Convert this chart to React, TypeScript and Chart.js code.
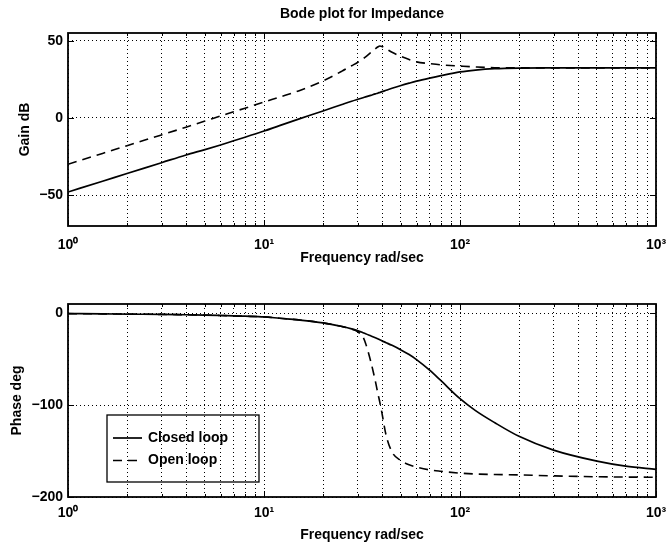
import React, { useEffect, useRef } from 'react';
import { Chart, registerables } from 'chart.js';

Chart.register(...registerables);

// ---------- data ----------
const frequencies = [
  1, 1.5, 2, 3, 4, 5, 6, 7, 8, 10, 12, 15, 20, 25, 28, 30, 32, 33, 35, 37, 38, 39, 40, 42, 45,
  50, 55, 60, 70, 80, 100, 120, 150, 200, 300, 500, 700, 1000,
];
const closedLoopGain = [
  -48, -41, -36, -29, -24, -20.5, -17.5, -14.8, -12.5, -8.5, -5, -0.8, 4.5, 8.7, 10.8, 12, 13.1,
  13.6, 14.6, 15.6, 16, 16.5, 17, 17.9, 19.2, 21, 22.5, 23.8, 25.8, 27.4, 29.8, 31, 31.9, 32.3,
  32.4, 32.4, 32.4, 32.4,
];
const openLoopGain = [
  -30, -23, -18, -11, -6, -2, 1.2, 4, 6.3, 10.3, 13.5, 17.5, 24, 30.3, 33.8, 35.9, 38.3, 39.6,
  42.3, 44.8, 45.9, 46.6, 46.3, 44.8, 42.5, 39.8, 37.8, 36.3, 35.2, 34.4, 33.6, 33, 32.5, 32.4,
  32.4, 32.4, 32.4, 32.4,
];
const closedLoopPhase = [
  -0.5, -0.7, -1, -1.3, -1.7, -2, -2.5, -3, -3.3, -4, -5.5, -7.3, -10.5, -14.5, -17, -19, -21.2,
  -22.3, -24.6, -26.8, -27.9, -29, -30.1, -32.1, -35, -40, -45, -50.5, -62, -73.5, -93, -106,
  -119, -134, -149, -161, -166.5, -170,
];
const openLoopPhase = [
  -0.5, -0.7, -1, -1.3, -1.7, -2, -2.5, -3, -3.3, -4, -5.5, -7.3, -10.5, -14.5, -17.3, -20, -26,
  -33, -52, -74, -86, -97, -109, -133, -151, -160.5, -165, -167.5, -170.5, -172, -174, -175,
  -175.5, -176, -177, -178, -178.3, -178.5,
];
const seriesNames = ['Closed loop', 'Open loop'];
const gainTicks = [-50, 0, 50];
const phaseTicks = [-200, -100, 0];
const decadeLabels = ['10⁰', '10¹', '10²', '10³'];
const gridMultipliers = [1, 2, 3, 4, 5, 6, 7, 8, 9];
const decades = [1, 10, 100];

const FONT = '"Liberation Sans", Arial, Helvetica, sans-serif';
const font = (size: number) => ({ family: FONT, size, weight: 'bold' as const, lineHeight: 1.2 });

const gridFrequencies: number[] = [];
decades.forEach((d) => gridMultipliers.forEach((m) => gridFrequencies.push(m * d)));
gridFrequencies.push(1000);

const isDecade = (v: number) => {
  const e = Math.log10(v);
  return Math.abs(e - Math.round(e)) < 1e-9;
};

// ---------- plugins ----------
const framePlugin = {
  id: 'matlabFrame',
  afterDraw(chart: any) {
    const { ctx, chartArea: a, scales } = chart;
    ctx.save();
    ctx.strokeStyle = '#000';
    ctx.setLineDash([]);
    const line = (x1: number, y1: number, x2: number, y2: number) => {
      ctx.beginPath();
      ctx.moveTo(x1, y1);
      ctx.lineTo(x2, y2);
      ctx.stroke();
    };
    ctx.lineWidth = 1;
    scales.x.ticks.forEach((t: any) => {
      const p = Math.round(scales.x.getPixelForValue(t.value)) + 0.5;
      const len = isDecade(t.value) ? 6 : 3;
      line(p, a.bottom, p, a.bottom - len);
      line(p, a.top, p, a.top + len);
    });
    scales.y.ticks.forEach((t: any) => {
      const p = Math.round(scales.y.getPixelForValue(t.value)) + 0.5;
      line(a.left, p, a.left + 6, p);
      line(a.right, p, a.right - 6, p);
    });
    ctx.lineWidth = 1.8;
    ctx.strokeRect(a.left, a.top, a.right - a.left, a.bottom - a.top);
    ctx.restore();
  },
};

const boxLegendPlugin = {
  id: 'boxLegend',
  afterDraw(chart: any, _args: any, opts: any) {
    if (!opts || !opts.display) return;
    const { ctx, chartArea: a } = chart;
    const left = a.left + 39;
    const top = a.top + 111;
    const w = 152;
    const h = 67;
    ctx.save();
    ctx.strokeStyle = '#000';
    ctx.lineWidth = 1.3;
    ctx.setLineDash([]);
    ctx.strokeRect(left, top, w, h);
    chart.data.datasets.forEach((ds: any, i: number) => {
      const y = top + 23 + i * 22.5;
      ctx.setLineDash(ds.borderDash || []);
      ctx.lineWidth = ds.borderWidth;
      ctx.beginPath();
      ctx.moveTo(left + 6, y);
      ctx.lineTo(left + 35, y);
      ctx.stroke();
      ctx.setLineDash([]);
      ctx.font = `bold 14px ${FONT}`;
      ctx.fillStyle = '#000';
      ctx.textBaseline = 'middle';
      ctx.textAlign = 'left';
      ctx.fillText(ds.label, left + 41, y);
    });
    ctx.restore();
  },
};

// ---------- config ----------
function makeConfig(kind: 'gain' | 'phase') {
  const isGain = kind === 'gain';
  const closed = isGain ? closedLoopGain : closedLoopPhase;
  const open = isGain ? openLoopGain : openLoopPhase;
  const yTicks = isGain ? gainTicks : phaseTicks;
  return {
    type: 'line' as const,
    data: {
      datasets: [
        {
          label: seriesNames[0],
          data: frequencies.map((f, i) => ({ x: f, y: closed[i] })),
          borderColor: '#000',
          borderWidth: 1.7,
          pointRadius: 0,
          fill: false,
          cubicInterpolationMode: 'monotone' as const,
        },
        {
          label: seriesNames[1],
          data: frequencies.map((f, i) => ({ x: f, y: open[i] })),
          borderColor: '#000',
          borderWidth: 1.6,
          borderDash: [9, 6],
          pointRadius: 0,
          fill: false,
          cubicInterpolationMode: 'monotone' as const,
        },
      ],
    },
    options: {
      responsive: false,
      animation: false as const,
      devicePixelRatio: 1,
      layout: { padding: { left: 0, right: 11, top: isGain ? 0 : 32, bottom: 0 } },
      plugins: {
        legend: { display: false },
        tooltip: { enabled: false },
        title: {
          display: isGain,
          text: 'Bode plot for Impedance',
          fullSize: false,
          color: '#000',
          font: font(14),
          padding: { top: 5.6, bottom: 10.6 },
        },
        boxLegend: { display: !isGain },
      },
      scales: {
        x: {
          type: 'logarithmic' as const,
          position: 'bottom' as const,
          min: 1,
          max: 1000,
          afterBuildTicks: (s: any) => {
            s.ticks = gridFrequencies.map((v) => ({ value: v }));
          },
          afterFit: (s: any) => {
            s.height = isGain ? 46 : 47;
            s.paddingLeft = 0;
            s.paddingRight = 0;
          },
          grid: { color: '#000', lineWidth: 1, drawTicks: false },
          border: { display: false, dash: [1, 3] },
          ticks: {
            autoSkip: false,
            maxRotation: 0,
            minRotation: 0,
            padding: isGain ? 10.5 : 8,
            color: '#000',
            font: font(14),
            callback: (v: any) => {
              const n = Number(v);
              return isDecade(n) ? decadeLabels[Math.round(Math.log10(n))] : '';
            },
          },
          title: {
            display: true,
            text: 'Frequency rad/sec',
            color: '#000',
            font: font(14),
            padding: { top: 0, bottom: isGain ? 5.6 : 0.6 },
          },
        },
        y: {
          type: 'linear' as const,
          min: isGain ? -70 : -200,
          max: isGain ? 55 : 10,
          afterBuildTicks: (s: any) => {
            s.ticks = yTicks.map((v) => ({ value: v }));
          },
          afterFit: (s: any) => {
            s.width = 68;
            s.paddingTop = 0;
            s.paddingBottom = 0;
          },
          grid: { color: '#000', lineWidth: 1, drawTicks: false },
          border: { display: false, dash: [1, 3] },
          ticks: {
            padding: 5,
            color: '#000',
            font: font(14),
            callback: (v: any) => String(v).replace('-', '−'),
          },
          title: {
            display: true,
            text: isGain ? 'Gain dB' : 'Phase deg',
            color: '#000',
            font: font(14),
            padding: { top: isGain ? 16.6 : 9.1, bottom: 0 },
          },
        },
      },
    },
    plugins: [framePlugin, boxLegendPlugin],
  };
}

function BodePanel({ kind, top }: { kind: 'gain' | 'phase'; top: number }) {
  const ref = useRef<HTMLCanvasElement | null>(null);
  useEffect(() => {
    if (!ref.current) return;
    const chart = new Chart(ref.current, makeConfig(kind) as any);
    return () => chart.destroy();
  }, [kind]);
  return (
    <canvas
      ref={ref}
      width={667}
      height={272}
      style={{ position: 'absolute', left: 0, top, width: 667, height: 272, display: 'block' }}
    />
  );
}

export default function App() {
  return (
    <div
      style={{
        position: 'absolute',
        left: 0,
        top: 0,
        width: 667,
        height: 544,
        background: '#fff',
        overflow: 'hidden',
      }}
    >
      <BodePanel kind="gain" top={0} />
      <BodePanel kind="phase" top={272} />
    </div>
  );
}
